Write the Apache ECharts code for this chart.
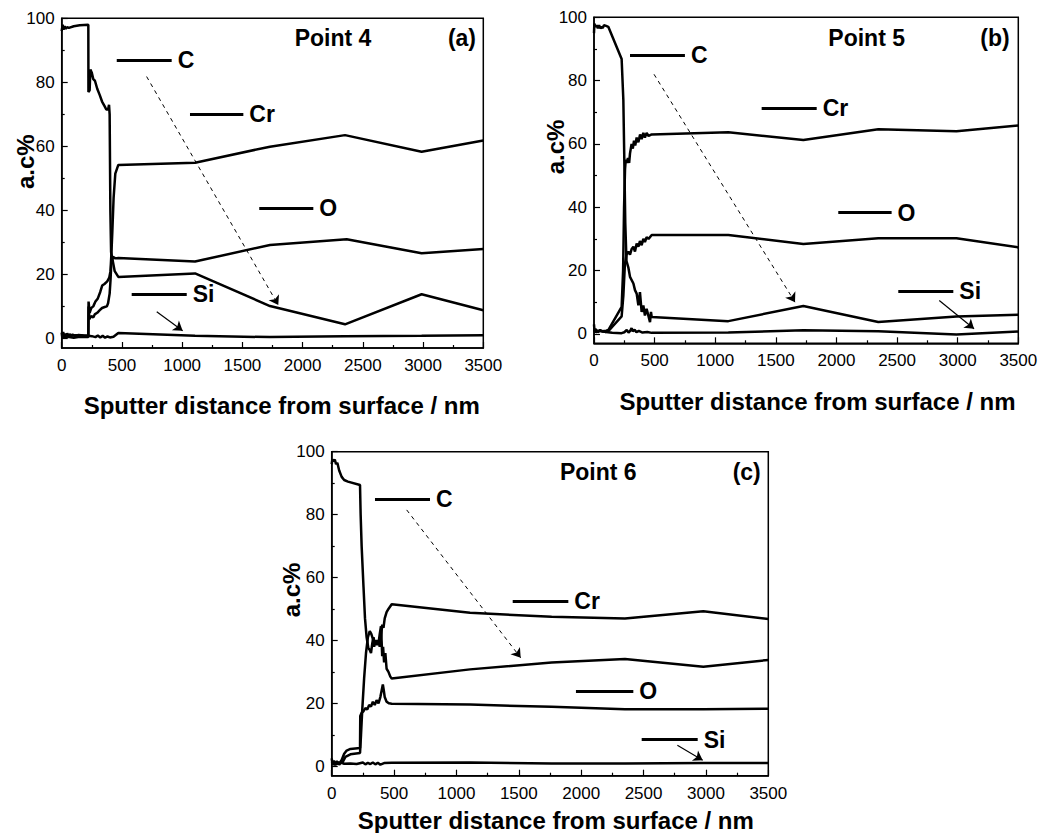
<!DOCTYPE html>
<html><head><meta charset="utf-8">
<script src="https://cdn.jsdelivr.net/npm/echarts@6/dist/echarts.min.js"></script>
<style>html,body{margin:0;padding:0;background:#fff}#c{width:1042px;height:833px}</style>
</head><body><div id="c"></div>
<script>
// ---------- DATA (sputter distance nm, atomic concentration %) ----------
const elements = ['C', 'Cr', 'O', 'Si'];
const panelTitles = ['Point 4', 'Point 5', 'Point 6'];
const panelTags = ['(a)', '(b)', '(c)'];
const yLabelValues = [0, 20, 40, 60, 80, 100];
const yMinorTickValues = [10, 30, 50, 70, 90];
const xName = 'Sputter distance from surface / nm';
const yName = 'a.c%';

// Point 4 (a)
const p4_C = [[0,96],[8,98],[15,96.5],[25,97.5],[35,96.8],[45,97.2],[60,97],[100,97.5],[150,97.8],[221,98],[222,77],[232,77.5],[238,84],[250,83],[262,81],[276,80.5],[295,78],[316,76],[335,74],[357,72.5],[370,71.5],[385,71.5],[393,73],[398,70],[404,40],[410,27],[420,25],[440,21],[470,19.2],[1107,20.3],[1729,10.1],[2352,4.4],[2988,13.8],[3500,8.8]];
const p4_Cr = [[0,0.3],[50,0.5],[100,0.2],[150,0.5],[221,0.4],[223,11.5],[232,8],[245,9.5],[262,10],[280,11.5],[300,12.5],[320,14.5],[336,16.5],[355,17],[378,17.8],[395,19],[405,21],[412,26],[420,33],[431,44],[445,51.5],[470,54.2],[1107,54.9],[1729,59.9],[2352,63.5],[2988,58.3],[3500,61.8]];
const p4_O = [[0,1],[60,0.8],[120,1],[221,0.8],[223,10],[230,6],[245,7],[262,6.5],[274,7.5],[295,8],[316,8.8],[335,9.5],[357,9.8],[375,10],[385,11],[398,14],[405,18],[412,23.5],[425,25.5],[445,25],[470,25.1],[1107,24],[1729,29.2],[2366,31],[2988,26.6],[3500,27.9]];
const p4_Si = [[0,1.8],[5,0.3],[12,2],[20,0.8],[28,1.5],[36,0.4],[45,1.6],[55,0.6],[65,1.4],[75,0.7],[90,1.2],[110,0.8],[140,1.1],[180,0.9],[221,0.8],[250,0.7],[280,0.4],[300,0.9],[320,0.3],[340,0.8],[360,0.2],[380,0.6],[400,0.3],[430,0.5],[470,1.7],[1107,0.8],[1729,0.4],[2352,0.7],[2988,0.8],[3500,1.0]];

// Point 5 (b)
const p5_C = [[0,95],[3,98],[12,97],[22,97.5],[32,96.5],[42,97.5],[52,96.5],[62,97],[72,96.6],[82,97.5],[100,97.3],[118,97],[228,86.8],[242,74],[250,55],[258,35],[268,23],[283,21],[297,18],[325,15.9],[338,13.8],[352,12.7],[366,9],[379,13.2],[393,6.9],[407,9],[420,5.8],[434,7.9],[462,3.7],[470,6.9],[476,5.3],[1108,4],[1727,8.8],[2345,3.7],[2990,5.5],[3500,6]];
const p5_Cr = [[0,3],[5,0.5],[15,1.5],[30,0.5],[50,1.2],[70,0.8],[100,1],[118,1.2],[228,8.5],[240,20],[248,40],[256,52],[262,55],[270,54],[280,55.5],[290,54],[297,57],[310,60],[320,58.5],[330,61],[340,59.5],[352,62],[366,60.5],[380,63],[393,61.5],[407,63.5],[420,62],[434,63.5],[450,62.5],[476,63],[1108,63.7],[1727,61.2],[2345,64.6],[2990,64],[3500,65.8]];
const p5_O = [[0,1],[20,0.5],[50,1],[100,0.6],[118,0.8],[228,5.5],[242,12],[255,22],[268,25],[283,26],[297,25],[311,26.8],[325,27.5],[338,26],[352,28.5],[366,27.5],[379,29.3],[393,28],[407,30],[420,29],[434,30.5],[450,30],[476,31.2],[1108,31.2],[1727,28.4],[2345,30.2],[2990,30.2],[3500,27.3]];
const p5_Si = [[0,1.5],[20,1],[60,0.8],[100,0.6],[150,0.3],[228,0.2],[250,0.5],[270,1.2],[285,0.4],[300,1],[310,1.8],[320,0.8],[335,1.3],[350,0.5],[370,0.9],[400,0.4],[440,0.6],[476,0.3],[1108,0.4],[1727,1.1],[2345,0.8],[2990,-0.2],[3500,0.7]];

// Point 6 (c)
const p6_C = [[0,96],[5,97.5],[15,97],[25,97.5],[35,96],[45,96.5],[60,94],[80,92],[100,91],[130,90.5],[227,89.4],[232,80],[240,70],[255,57],[267,47],[280,41],[294,37.5],[305,37],[315,36],[325,39],[335,41],[345,39],[360,40],[375,39],[385,42],[395,44.5],[400,40],[405,35],[412,38],[420,33],[430,36],[440,31],[455,30],[470,28.5],[481,27.9],[1109,30.8],[1763,33],[2351,34.1],[2979,31.6],[3500,33.8]];
const p6_Cr = [[0,1],[30,0.5],[60,1],[90,1.5],[110,3],[150,3.8],[227,4.2],[235,10],[245,18],[260,28],[275,36],[290,41],[305,43],[318,42],[330,40.5],[340,38],[350,40],[362,38.5],[375,40],[385,38],[395,41],[405,45],[415,44],[425,47],[440,49],[455,50],[481,51.5],[1109,48.8],[1763,47.5],[2351,47],[2979,49.3],[3500,46.8]];
const p6_O = [[0,1.5],[20,0.5],[40,1.5],[60,0.8],[80,2],[100,4],[120,5],[150,5.5],[227,5.8],[229,16],[240,17],[255,17.5],[270,18.5],[285,18],[300,19.5],[315,19],[330,20.5],[345,19.5],[360,21],[375,20],[390,22],[400,24],[410,26],[418,24],[425,22],[440,20.5],[460,20],[481,19.9],[1109,19.6],[1763,18.9],[2351,18.1],[2979,18.1],[3500,18.3]];
const p6_Si = [[0,2.5],[8,0.5],[18,1.8],[30,0.6],[45,1.5],[60,0.5],[75,1.2],[100,0.8],[150,0.9],[200,0.7],[250,1.2],[270,0.6],[290,1.1],[310,0.7],[330,1.2],[350,0.6],[370,1.1],[390,0.5],[420,1],[481,1.1],[1109,1.2],[1763,0.9],[2351,0.9],[2979,1.0],[3500,1.0]];

const panelSeries = [
  [p4_C, p4_Cr, p4_O, p4_Si],
  [p5_C, p5_Cr, p5_O, p5_Si],
  [p6_C, p6_Cr, p6_O, p6_Si]
];

// ---------- ANNOTATIONS (data coordinates) ----------
const labelSegs = [
  [[457,913,87],[1065,1508,70],[1640,2089,40.6],[581,1038,13.75]],
  [[297,750,88],[1383,1837,71.4],[2015,2455,38.3],[2510,2964,13.4]],
  [[347,788,84.9],[1451,1897,52.6],[1958,2418,23.9],[2485,2934,8.5]]
];
const dashArrows = [[[705,81.8],[1798,10.4]], [[495,82],[1658,10]], [[601,81.5],[1515,34.5]]];
const siArrows = [[[789,8.3],[1004,2.4]], [[2848,10.5],[3135,1.6]], [[2771,6.7],[2974,1.9]]];
const titlePos = [[2252,93.8],[2249,93.4],[2137,93.6]];
const tagPos = [[3323,93.8],[3308,93.4],[3327,93.6]];

// ---------- LAYOUT ----------
const FONT = "'Liberation Sans', Arial, Helvetica, sans-serif";
const grids = [
  {left: 61.7, top: 18.3, width: 421.6, height: 329.7},
  {left: 594, top: 17.3, width: 424.3, height: 326},
  {left: 331.7, top: 451.7, width: 436.6, height: 324}
];
const xNamePos = [[281.7, 405], [817.5, 401], [555.8, 820]];
const yNamePos = [[25, 161.7], [555, 147], [291.7, 590]];

const axisLineStyle = {show: true, onZero: false, lineStyle: {color: '#000', width: 1.5}};
const option = {
  animation: false,
  backgroundColor: '#fff',
  grid: grids.map(g => Object.assign({show: true, borderColor: '#000', borderWidth: 1.5, backgroundColor: 'transparent'}, g)),
  xAxis: grids.map((g, i) => ({
    type: 'value', gridIndex: i, min: 0, max: 3500, interval: 500,
    axisLine: axisLineStyle,
    axisTick: {show: true, inside: true, length: 6, lineStyle: {color: '#000', width: 1.2}},
    minorTick: {show: true, splitNumber: 2, length: 3, lineStyle: {color: '#000', width: 1.2}},
    axisLabel: {show: true, margin: 9, color: '#000', fontSize: 17, fontFamily: FONT, formatter: v => String(v)},
    splitLine: {show: false}, minorSplitLine: {show: false}
  })),
  yAxis: [],
  series: [],
  graphic: []
};
grids.forEach((g, i) => option.yAxis.push({
  type: 'value', gridIndex: i, min: -3, max: 100,
  axisLine: axisLineStyle,
  axisTick: {show: true, inside: true, length: 6, customValues: yLabelValues, lineStyle: {color: '#000', width: 1.2}},
  axisLabel: {show: true, margin: 7, color: '#000', fontSize: 17, fontFamily: FONT, customValues: yLabelValues, formatter: v => String(v)},
  splitLine: {show: false}
}));
grids.forEach((g, i) => option.yAxis.push({
  type: 'value', gridIndex: i, min: -3, max: 100, position: 'left', offset: 0,
  axisLine: {show: false},
  axisTick: {show: true, inside: true, length: 3, customValues: yMinorTickValues, lineStyle: {color: '#000', width: 1.2}},
  axisLabel: {show: false},
  splitLine: {show: false}
}));

const lineStyleMain = {color: '#000', width: 2.5};
const annoLabel = {show: true, position: 'end', distance: 6, formatter: '{b}', color: '#000',
  fontSize: 23, fontWeight: 'bold', fontFamily: FONT};

panelSeries.forEach((arrs, p) => {
  arrs.forEach((data, k) => {
    const s = {
      type: 'line', name: elements[k] + ' ' + panelTitles[p],
      xAxisIndex: p, yAxisIndex: p, data: data,
      showSymbol: false, symbol: 'none', lineStyle: lineStyleMain, itemStyle: {color: '#000'},
      silent: true, z: 3
    };
    if (k === 3) {
      s.markLine = {
        silent: true, symbol: ['none', 'none'], animation: false,
        lineStyle: {color: '#000', width: 3, type: 'solid'},
        label: annoLabel,
        data: labelSegs[p].map((seg, j) => [
          {name: elements[j], coord: [seg[0], seg[2]]},
          {coord: [seg[1], seg[2]]}
        ])
      };
      s.markPoint = {
        silent: true, animation: false, symbol: 'circle', symbolSize: 0,
        itemStyle: {color: 'transparent'},
        label: {show: true, position: 'inside', formatter: '{b}', color: '#000', fontSize: 23, fontWeight: 'bold', fontFamily: FONT},
        data: [
          {name: panelTitles[p], coord: titlePos[p]},
          {name: panelTags[p], coord: tagPos[p]}
        ]
      };
    }
    if (k === 0) {
      s.markLine = {
        silent: true, symbol: ['none', 'arrow'], symbolSize: 9, animation: false,
        label: {show: false},
        data: [
          [{coord: dashArrows[p][0], lineStyle: {color: '#000', width: 1, type: [4, 4]}}, {coord: dashArrows[p][1], lineStyle: {color: '#000', width: 1, type: [4, 4]}}],
          [{coord: siArrows[p][0], lineStyle: {color: '#000', width: 1.2, type: 'solid'}}, {coord: siArrows[p][1], lineStyle: {color: '#000', width: 1.2, type: 'solid'}}]
        ]
      };
    }
    option.series.push(s);
  });
  option.graphic.push({
    type: 'text', x: xNamePos[p][0], y: xNamePos[p][1], silent: true,
    style: {text: xName, fill: '#000', font: 'bold 24px ' + FONT, align: 'center', verticalAlign: 'middle'}
  });
  option.graphic.push({
    type: 'text', x: yNamePos[p][0], y: yNamePos[p][1], rotation: Math.PI / 2, silent: true,
    style: {text: yName, fill: '#000', font: 'bold 24px ' + FONT, align: 'center', verticalAlign: 'middle'}
  });
});

const chart = echarts.init(document.getElementById('c'), null, {renderer: 'svg'});
chart.setOption(option);
</script>
</body></html>
